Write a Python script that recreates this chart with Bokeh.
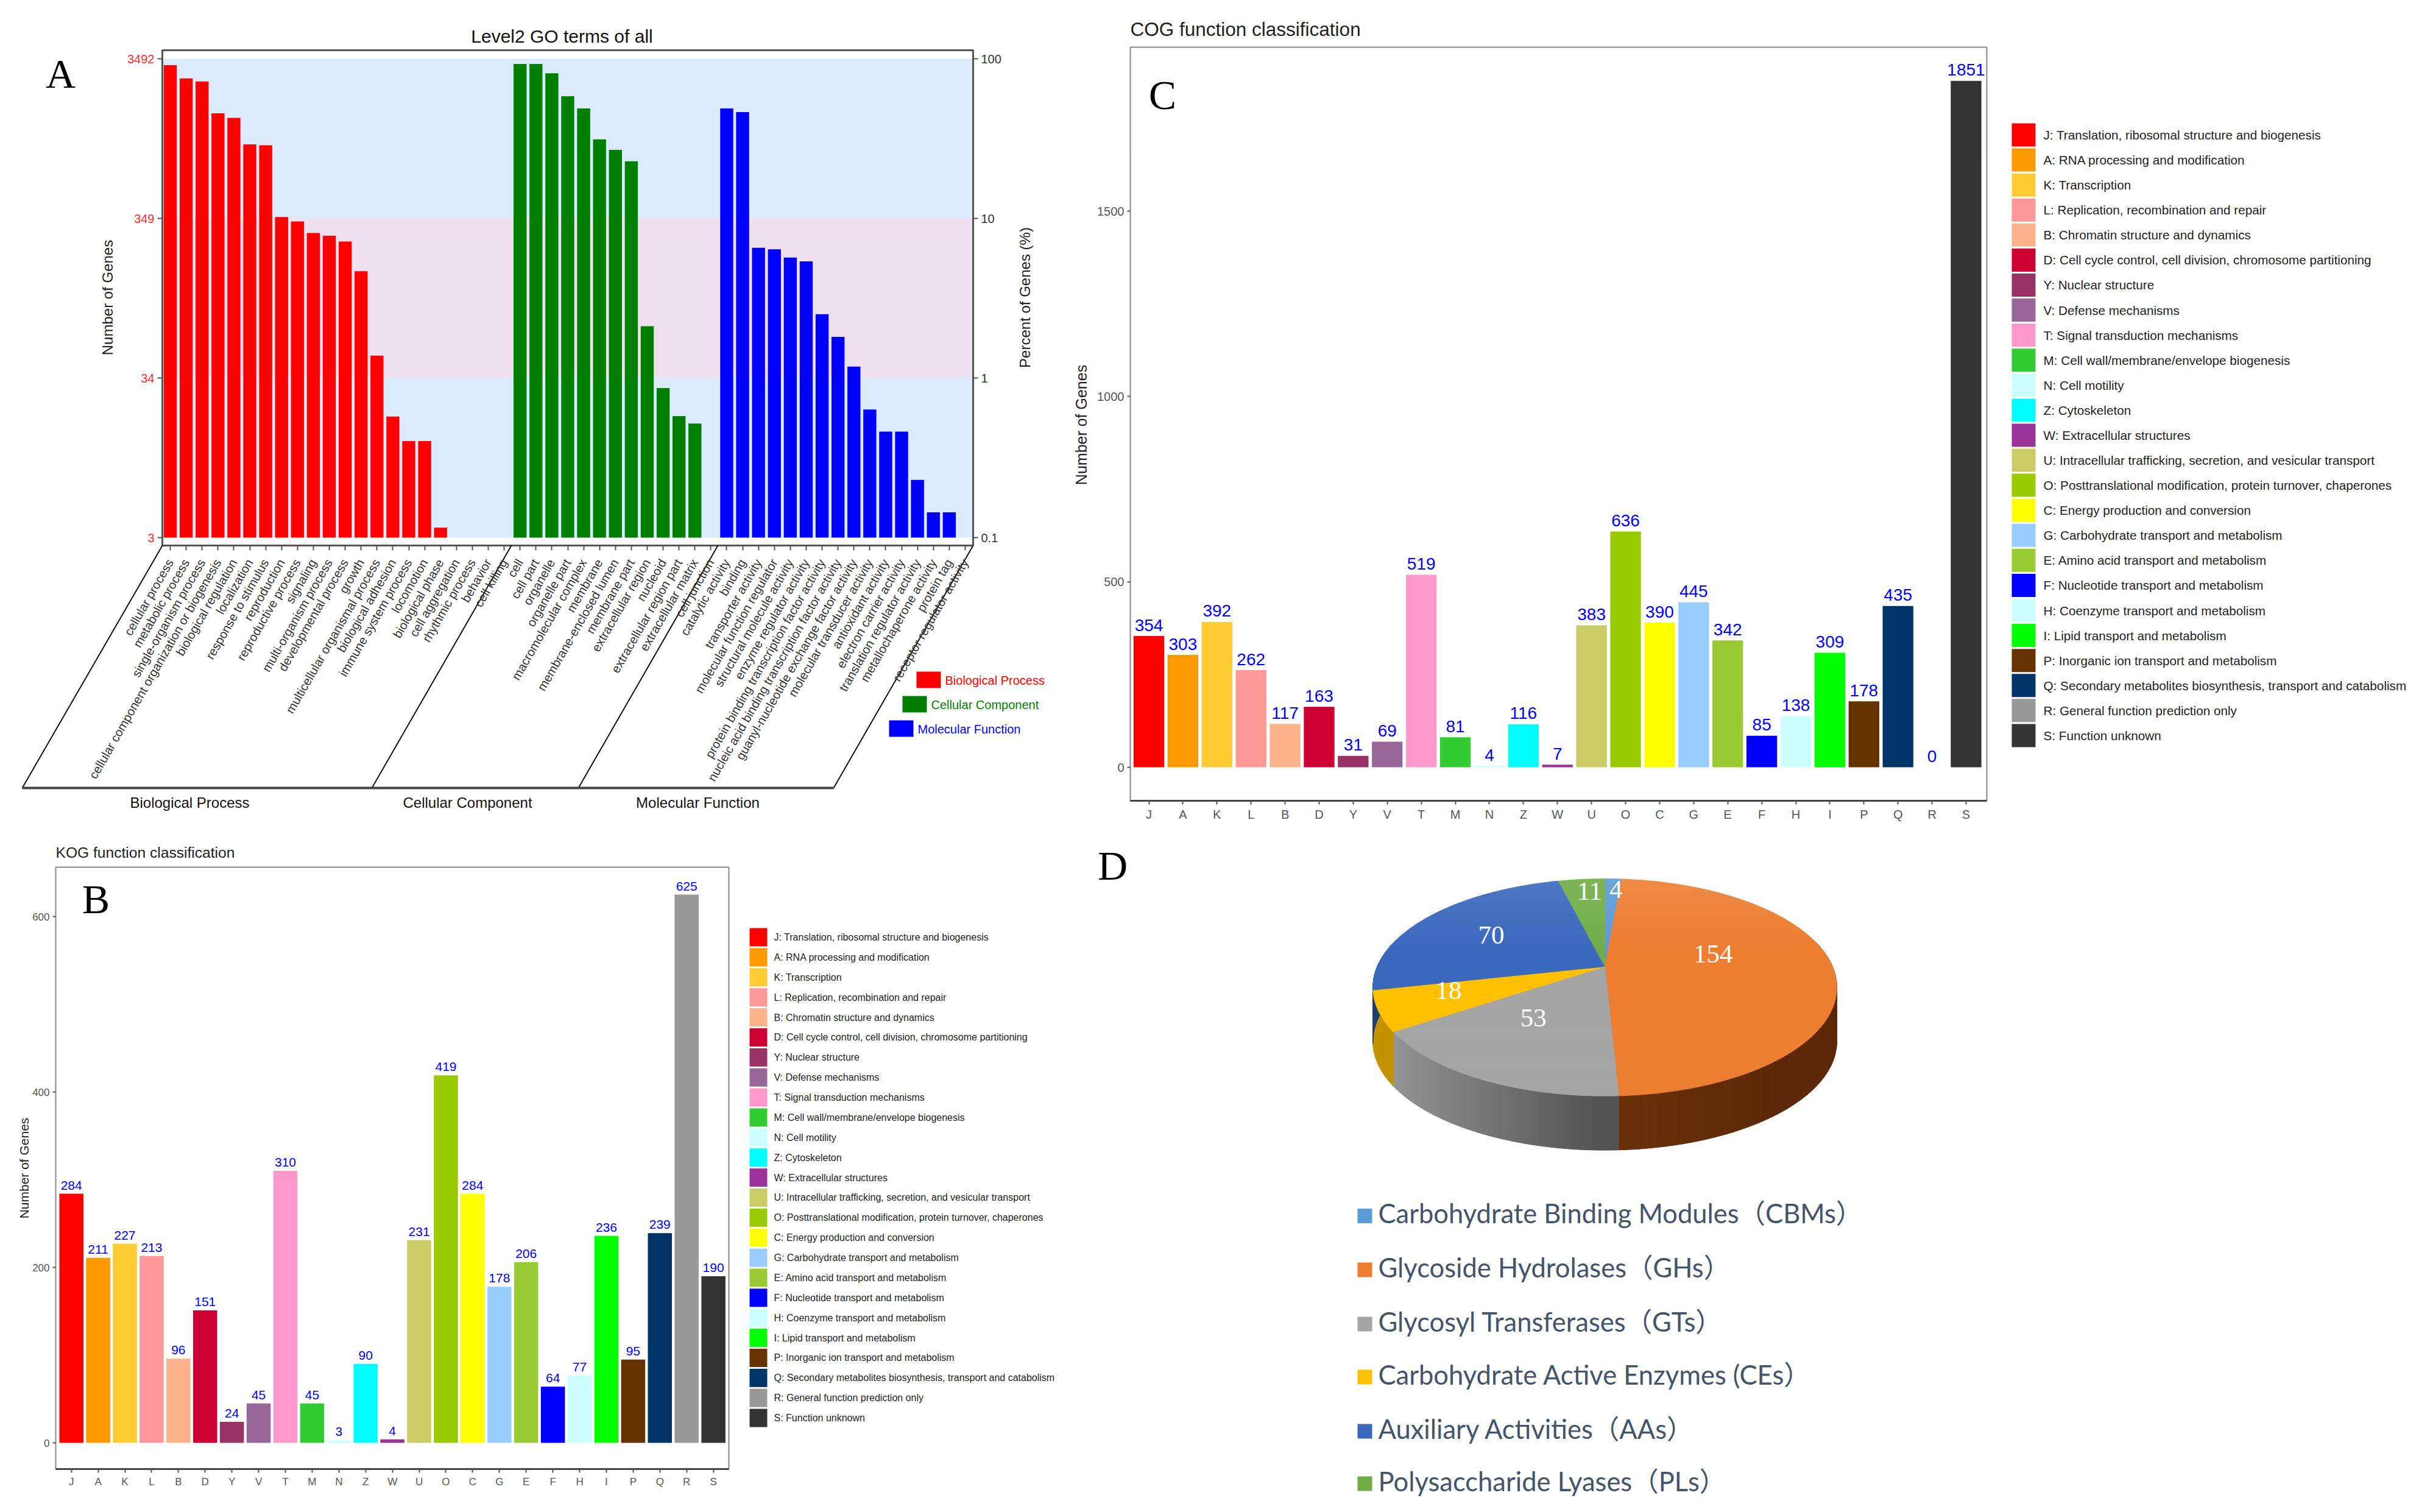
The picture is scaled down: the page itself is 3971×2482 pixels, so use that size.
import math
from bokeh.embed import file_html
from bokeh.resources import INLINE
from bokeh.plotting import figure
from bokeh.models import FixedTicker, LinearAxis, LogAxis, LogScale, Range1d, ColumnDataSource
from bokeh.core.properties import value

# ---------- Panel A data ----------
go_bp_terms = ["cellular process", "metabolic process", "single-organism process",
               "cellular component organization or biogenesis", "biological regulation", "localization",
               "response to stimulus", "reproduction", "reproductive process", "signaling",
               "multi-organism process", "developmental process", "growth",
               "multicellular organismal process", "biological adhesion", "immune system process",
               "locomotion", "biological phase", "cell aggregation", "rhythmic process", "behavior",
               "cell killing"]
go_bp_pct = [91.2, 75.4, 72.1, 45.5, 42.6, 29.1, 28.7, 10.2, 9.58, 8.10, 7.78, 7.16, 4.67, 1.38,
             0.574, 0.403, 0.403, 0.1155, None, None, None, None]
go_cc_terms = ["cell", "cell part", "organelle", "organelle part", "macromolecular complex", "membrane",
               "membrane-enclosed lumen", "membrane part", "extracellular region", "nucleoid",
               "extracellular region part", "extracellular matrix", "cell junction"]
go_cc_pct = [92.8, 92.8, 81.1, 58.2, 48.9, 31.3, 26.9, 22.8, 2.11, 0.865, 0.577, 0.519, None]
go_mf_terms = ["catalytic activity", "binding", "transporter activity", "molecular function regulator",
               "structural molecule activity", "enzyme regulator activity",
               "protein binding transcription factor activity",
               "nucleic acid binding transcription factor activity",
               "guanyl-nucleotide exchange factor activity", "molecular transducer activity",
               "antioxidant activity", "electron carrier activity", "translation regulator activity",
               "metallochaperone activity", "protein tag", "receptor regulator activity"]
go_mf_pct = [48.9, 46.3, 6.54, 6.40, 5.69, 5.38, 2.51, 1.81, 1.18, 0.635, 0.461, 0.461, 0.230, 0.144,
             0.144, None]
go_groups = ["Biological Process", "Cellular Component", "Molecular Function"]
go_colors = ["#ff0000", "#008000", "#0000ff"]
go_left_ticks = {0.1: "3", 1: "34", 10: "349", 100: "3492"}
go_right_ticks = {0.1: "0.1", 1: "1", 10: "10", 100: "100"}

# ---------- Panels B, C data ----------
func_letters = list("JAKLBDYVTMNZWUOCGEFHIPQRS")
func_names = ["Translation, ribosomal structure and biogenesis", "RNA processing and modification",
              "Transcription", "Replication, recombination and repair", "Chromatin structure and dynamics",
              "Cell cycle control, cell division, chromosome partitioning", "Nuclear structure",
              "Defense mechanisms", "Signal transduction mechanisms", "Cell wall/membrane/envelope biogenesis",
              "Cell motility", "Cytoskeleton", "Extracellular structures",
              "Intracellular trafficking, secretion, and vesicular transport",
              "Posttranslational modification, protein turnover, chaperones", "Energy production and conversion",
              "Carbohydrate transport and metabolism", "Amino acid transport and metabolism",
              "Nucleotide transport and metabolism", "Coenzyme transport and metabolism",
              "Lipid transport and metabolism", "Inorganic ion transport and metabolism",
              "Secondary metabolites biosynthesis, transport and catabolism", "General function prediction only",
              "Function unknown"]
func_colors = ["#ff0000", "#ff9900", "#ffcc33", "#ff9999", "#ffb38a", "#cc0033", "#993366", "#996699",
               "#ff99cc", "#33cc33", "#ccffff", "#00ffff", "#993399", "#cccc66", "#99cc00", "#ffff00",
               "#99ccff", "#99cc33", "#0000ff", "#ccffff", "#00ff00", "#663300", "#003366", "#999999", "#333333"]
cog_counts = [354, 303, 392, 262, 117, 163, 31, 69, 519, 81, 4, 116, 7, 383, 636, 390, 445, 342, 85, 138,
              309, 178, 435, 0, 1851]
kog_counts = [284, 211, 227, 213, 96, 151, 24, 45, 310, 45, 3, 90, 4, 231, 419, 284, 178, 206, 64, 77,
              236, 95, 239, 625, 190]

# ---------- Panel D data ----------
cazy_names = ["Carbohydrate Binding Modules（CBMs）", "Glycoside Hydrolases（GHs）", " Glycosyl Transferases（GTs）",
              "Carbohydrate Active Enzymes (CEs）", "Auxiliary Activities（AAs）", "Polysaccharide Lyases（PLs）"]
cazy_counts = [4, 154, 53, 18, 70, 11]
cazy_top = ["#5b9bd5", "#ed7d31", "#a5a5a5", "#ffc000", "#3a68bd", "#70ad47"]

FONT = "Liberation Sans"
SERIF = "Liberation Serif"
PX0, PX1, PY0, PY1 = 0, 3955, 0, 2466

# one canvas, default ranges are page pixels; every panel has its own scales mapped on it
p = figure(width=PX1 - PX0, height=PY1 - PY0, output_backend="svg", toolbar_location=None, tools="",
           x_range=Range1d(PX0, PX1), y_range=Range1d(PY1, PY0), min_border=0)
p.axis.visible = False
p.grid.visible = False
p.outline_line_color = None


def map_range(d0, px0, d1, px1, lo, hi):
    k = (d1 - d0) / (px1 - px0)
    return Range1d(d0 + (lo - px0) * k, d0 + (hi - px0) * k)


def T(xs, ys, strs, size, color="#000000", align="left", base="middle", angle=0, font=FONT):
    p.text(x=xs, y=ys, text=strs, text_font=value(font), text_font_size=f"{size}px", text_color=color,
           text_align=align, text_baseline=base, angle=angle, angle_units="deg")


def style_axis(a, size, color, tick_out):
    a.major_label_text_font = FONT
    a.major_label_text_font_size = f"{size}px"
    a.major_label_text_color = color
    a.major_tick_out = tick_out
    a.major_tick_in = 0
    a.minor_tick_out = 0
    a.minor_tick_in = 0
    a.axis_line_color = None
    a.major_tick_line_color = "#555555"
    a.major_tick_line_width = 2


def frame(l, r, t, b, color, width):
    p.quad(left=[l], right=[r], top=[t], bottom=[b], fill_color=None, line_color=color, line_width=width)


# ---------- Panel A ----------
terms = go_bp_terms + go_cc_terms + go_mf_terms
slots = list(range(len(terms)))
FA = dict(l=266, r=1597, t=82, b=895)
p.extra_x_ranges["ax"] = map_range(-0.5, FA["l"], len(terms) - 0.5, FA["r"], PX0, PX1)
k_dec = 262.0
p.extra_y_ranges["ay"] = Range1d(10 ** (-1 - (PY1 - 882) / k_dec), 10 ** (-1 + (882 - PY0) / k_dec))
p.extra_y_scales["ay"] = LogScale()
rk = dict(x_range_name="ax", y_range_name="ay")
for lo, hi, col in [(0.1, 1, "#dcebff"), (1, 10, "#eee0ef"), (10, 100, "#dcebff")]:
    p.quad(left=[-0.5], right=[len(terms) - 0.5], bottom=[lo], top=[hi], fill_color=col, line_color=None, **rk)
start = 0
for vals, col in zip([go_bp_pct, go_cc_pct, go_mf_pct], go_colors):
    xs = [start + i for i, v in enumerate(vals) if v is not None]
    tops = [v for v in vals if v is not None]
    p.vbar(x=xs, top=tops, bottom=0.1, width=0.82, fill_color=col, line_color=None, **rk)
    start += len(vals)
frame(FA["l"], FA["r"], FA["t"], FA["b"], "#555555", 3)
ax = LinearAxis(x_range_name="ax", ticker=FixedTicker(ticks=slots), fixed_location=FA["b"],
                major_label_overrides={i: t for i, t in zip(slots, terms)},
                major_label_orientation=math.radians(60), major_label_standoff=16)
style_axis(ax, 20.3, "#333333", 8)
p.add_layout(ax, "below")
ay = LogAxis(y_range_name="ay", ticker=FixedTicker(ticks=list(go_left_ticks)), fixed_location=FA["l"],
             major_label_overrides=go_left_ticks)
style_axis(ay, 20, "#ff3030", 8)
p.add_layout(ay, "left")
ar = LogAxis(y_range_name="ay", ticker=FixedTicker(ticks=list(go_right_ticks)), fixed_location=FA["r"],
             major_label_overrides=go_right_ticks)
style_axis(ar, 20, "#333333", 8)
p.add_layout(ar, "right")
T([176], [488], ["Number of Genes"], 24, "#222222", "center", angle=90)
T([1682], [488], ["Percent of Genes (%)"], 24, "#222222", "center", angle=90)
T([922], [59], ["Level2 GO terms of all"], 30, "#111111", "center")
T([99], [120], ["A"], 68, align="center", font=SERIF)
for top_x, bot_x in [(266, 36), (839, 610), (1178, 949), (1597, 1368)]:
    p.segment(x0=[top_x], y0=[895], x1=[bot_x], y1=[1293], line_color="#111111", line_width=2)
p.segment(x0=[36], y0=[1293], x1=[1368], y1=[1293], line_color="#444444", line_width=4)
T([311, 767, 1145], [1317] * 3, go_groups, 24, "#111111", "center")
leg_l = [1504, 1481, 1459]
leg_t = [1102, 1142, 1182]
p.quad(left=leg_l, right=[v + 40 for v in leg_l], top=leg_t, bottom=[v + 27 for v in leg_t],
       fill_color=go_colors, line_color=None)
for g, c, l, t in zip(go_groups, go_colors, leg_l, leg_t):
    T([l + 47], [t + 14], [g], 20, c)


def func_panel(nm, F, first_px, last_px, y0_px, y1_val, y1_px, counts, ticks, title, title_size, title_y, tick_size,
               val_size, yl_size, yl_x, yl_y, val_off, lx, lw, lh, lfirst, lstep, ltx, lsize, letter):
    n = len(func_letters)
    xs = list(range(n))
    rx, ry = nm + "x", nm + "y"
    p.extra_x_ranges[rx] = map_range(0, first_px, n - 1, last_px, PX0, PX1)
    p.extra_y_ranges[ry] = map_range(0, y0_px, y1_val, y1_px, PY1, PY0)
    rk2 = dict(x_range_name=rx, y_range_name=ry)
    src = ColumnDataSource(dict(x=xs, top=counts, color=func_colors, lab=[str(c) for c in counts]))
    p.vbar(x="x", top="top", bottom=0, width=0.9, fill_color="color", line_color=None, source=src, **rk2)
    p.text(x="x", y="top", text="lab", source=src, text_color="#0000ff", text_font=value(FONT),
           text_font_size=f"{val_size}px", text_align="center", text_baseline="middle", y_offset=val_off, **rk2)
    frame(F["l"], F["r"], F["t"], F["b"], "#888888", 2)
    p.segment(x0=[F["l"]], y0=[F["b"]], x1=[F["r"]], y1=[F["b"]], line_color="#444444", line_width=3)
    xa = LinearAxis(x_range_name=rx, ticker=FixedTicker(ticks=xs), fixed_location=F["b"],
                    major_label_overrides={i: s for i, s in zip(xs, func_letters)}, major_label_standoff=5)
    style_axis(xa, tick_size, "#555555", 6)
    p.add_layout(xa, "below")
    ya = LinearAxis(y_range_name=ry, ticker=FixedTicker(ticks=ticks), fixed_location=F["l"])
    style_axis(ya, tick_size, "#555555", 5)
    p.add_layout(ya, "left")
    T([yl_x], [yl_y], ["Number of Genes"], yl_size, "#222222", "center", angle=90)
    T([F["l"]], [title_y], [title], title_size, "#222222")
    cys = [lfirst + i * lstep for i in xs]
    p.quad(left=[lx] * n, right=[lx + lw] * n, top=[c - lh / 2 for c in cys], bottom=[c + lh / 2 for c in cys],
           fill_color=func_colors, line_color=None)
    T([ltx] * n, cys, [f"{a}: {b}" for a, b in zip(func_letters, func_names)], lsize, "#222222")
    T([letter[0]], [letter[1]], [letter[2]], 68, align="center", font=SERIF)


func_panel("c", dict(l=1855, r=3261, t=77, b=1314), 1885.5, 3227, 1259, 1500, 346, cog_counts, [0, 500, 1000, 1500],
           "COG function classification", 31.5, 47, 20, 28, 25, 1774, 697, -18, 3302, 39, 38, 221, 41.08, 3354, 20.7,
           (1908, 155, "C"))
func_panel("b", dict(l=91, r=1196, t=1423, b=2411), 116.7, 1170.6, 2368, 600, 1504, kog_counts, [0, 200, 400, 600],
           "KOG function classification", 24.6, 1399, 17, 21, 21, 39, 1917, -14, 1230, 29, 30, 1538, 32.88, 1270, 16,
           (157, 1475, "B"))

# ---------- Panel D ----------
CX, AY = 2634.0, 1586.0
A_, B_, K_ = 373.6, 171.6, 0.1928
DEPTH = 89.0


def warp(deg):
    return deg - 3 + 6 * math.cos(math.radians(deg - 60))


def rim(deg, frac=1.0, dy=0.0):
    th = math.radians(warp(deg))
    u, v = frac * math.sin(th), frac * math.cos(th)
    w = 1 + K_ * v
    return CX + A_ * u / w, AY - B_ * v / w + dy


def mix(hexc, other, f):
    a = [int(hexc[i:i + 2], 16) for i in (1, 3, 5)]
    b = [int(other[i:i + 2], 16) for i in (1, 3, 5)]
    return "#%02x%02x%02x" % tuple(int(x + (y - x) * f) for x, y in zip(a, b))


def clip_band(poly, y0, y1):
    def half(points, inside, inter):
        out = []
        for i, a in enumerate(points):
            b = points[(i + 1) % len(points)]
            ia, ib = inside(a), inside(b)
            if ia:
                out.append(a)
            if ia != ib:
                out.append(inter(a, b))
        return out

    def cross(yv):
        return lambda a, b: (a[0] + (b[0] - a[0]) * (yv - a[1]) / (b[1] - a[1]), yv)

    res = half(poly, lambda q: q[1] >= y0, cross(y0))
    if res:
        res = half(res, lambda q: q[1] <= y1, cross(y1))
    return res


edges = [0.0]
for c in cazy_counts:
    edges.append(edges[-1] + 360.0 * c / sum(cazy_counts))

side_x, side_y, side_c = [], [], []
for i, c in enumerate(cazy_top):
    a0, a1 = edges[i], edges[i + 1]
    m = max(2, int((a1 - a0) / 1.5))
    for j in range(m):
        d0 = a0 + (a1 - a0) * j / m
        d1 = a0 + (a1 - a0) * (j + 1) / m
        q0, q1 = rim(d0), rim(d1)
        if math.cos(math.radians(warp((d0 + d1) / 2))) > 0.25:
            continue
        side_x.append([q0[0], q1[0], q1[0], q0[0]])
        side_y.append([q0[1], q1[1], q1[1] + DEPTH, q0[1] + DEPTH])
        frac = (q0[0] - (CX - A_)) / (2 * A_)
        if i == 1:
            col = mix("#6b3209", "#5c2805", min(1, (frac - 0.5) * 2.5))
        elif i == 2:
            col = mix("#9a9a9a", "#525252", min(1, frac / 0.5))
        elif i == 3:
            col = "#c29200"
        else:
            col = mix(c, "#000000", 0.4)
        side_c.append(col)
p.patches(side_x, side_y, fill_color=side_c, line_color=side_c, line_width=1)

top_x, top_y, top_c = [], [], []
for i, c in enumerate(cazy_top):
    a0, a1 = edges[i], edges[i + 1]
    m = max(3, int(a1 - a0))
    poly = [(CX, AY)] + [rim(a0 + (a1 - a0) * j / m) for j in range(m + 1)]
    y_top, y_bot = AY - 210, AY + 215
    bands = 24
    for b in range(bands):
        y0 = y_top + (y_bot - y_top) * b / bands
        y1 = y_top + (y_bot - y_top) * (b + 1) / bands
        piece = clip_band(poly, y0, y1)
        if len(piece) >= 3:
            top_x.append([q[0] for q in piece])
            top_y.append([q[1] for q in piece])
            top_c.append(mix(c, "#ffffff", max(0, 0.16 * (1 - (b + 0.5) / (bands * 0.45)))))
p.patches(top_x, top_y, fill_color=top_c, line_color=top_c, line_width=1)

lab_frac = [0.86, 0.50, 0.50, 0.72, 0.62, 0.84]
lab_dx = [6, -10, -28, 5, 0, 8]
lab_dy = [0, -30, 0, -12, 0, 0]
lab_pts = [rim((edges[i] + edges[i + 1]) / 2, fr) for i, fr in enumerate(lab_frac)]
T([q[0] + d for q, d in zip(lab_pts, lab_dx)], [q[1] + d for q, d in zip(lab_pts, lab_dy)],
  [str(c) for c in cazy_counts], 43, "#ffffff", "center", font=SERIF)

leg_y = [1995.5, 2084, 2173, 2260, 2349, 2435]
p.quad(left=[2228] * 6, right=[2252] * 6, top=[y - 12 for y in leg_y], bottom=[y + 12 for y in leg_y],
       fill_color=cazy_top, line_color=None)
T([2262] * 6, [y - 5 for y in leg_y], cazy_names, 43.5, "#44546a", font="Lato, 'Noto Sans CJK SC'")
T([1826], [1420], ["D"], 68, align="center", font=SERIF)

open("out.html", "w").write(file_html(p, INLINE))
